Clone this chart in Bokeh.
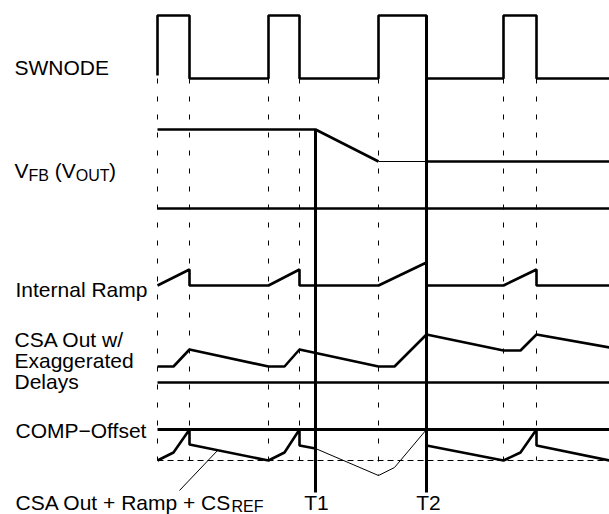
from bokeh.plotting import figure
from bokeh.models import Range1d
from bokeh.embed import file_html
from bokeh.resources import INLINE
from bokeh.core.properties import value

# ---- data (time axis in diagram units, levels in diagram units; y grows downward) ----
t_start, t_end = 157, 609
T1, T2 = 315, 426
edge_t = [157, 189, 268, 299, 378, 503, 536]          # switching edges (dashed markers)
edge_bottom = [460, 460, 460, 460, 475, 460, 460]

sw_t = [157, 157, 189, 189, 268, 268, 299, 299, 378, 378, 426, 426, 503, 503, 536, 536, 609]
sw_v = [75, 15, 15, 78, 78, 15, 15, 78, 78, 15, 15, 78, 78, 15, 15, 78, 78]

vfb_t = [157, 315, 378]
vfb_v = [129, 129, 161]
vfb_thin_t = [378, 426]
vfb_thin_v = [161, 161]
vfb2_t = [426, 609]
vfb2_v = [161, 161]
vfb_ref = 208

ramp_t = [157, 189, 189, 268, 299, 299, 378, 426, 426, 503, 536, 536, 609]
ramp_v = [285, 269, 285, 285, 269, 285, 285, 262, 285, 285, 269, 285, 285]

csa_t = [157, 173, 189, 268, 284, 299, 378, 394, 426, 503, 520, 536, 609]
csa_v = [366, 366, 349, 366, 366, 349, 366, 366, 334, 350, 350, 334, 347]
csa_ref = 382

comp_level = 429
sum_ref = 460
sum1_t = [157, 173, 189, 189, 268, 284, 299, 299, 315]
sum1_v = [460, 452, 429, 444, 460, 452, 429, 445, 448]
sum_thin_t = [315, 378, 394, 426]
sum_thin_v = [448, 475, 467, 429]
sum2_t = [426, 426, 503, 520, 536, 536, 609]
sum2_v = [429, 445, 460, 452, 429, 445, 460]

t_marker_top = [129, 15]
t_marker_bottom = 492
t_labels = ["T1", "T2"]

FONT = value("Liberation Sans")

p = figure(width=609, height=514, output_backend="svg", toolbar_location=None,
           x_range=Range1d(0, 609), y_range=Range1d(514, 0), min_border=0)
p.axis.visible = False
p.grid.visible = False
p.outline_line_color = None
p.background_fill_color = "white"

K = "black"
THICK = 2.6

# dashed edge markers
p.segment(x0=edge_t, y0=[78] * len(edge_t), x1=edge_t, y1=edge_bottom,
          line_color=K, line_width=1, line_dash="5 13")
# dashed sum reference
p.line([t_start, t_end], [sum_ref, sum_ref], line_color=K, line_width=1, line_dash="6 4")

# SWNODE
p.line(sw_t, sw_v, line_color=K, line_width=THICK)
# VFB
p.line(vfb_t, vfb_v, line_color=K, line_width=THICK)
p.line(vfb_thin_t, vfb_thin_v, line_color=K, line_width=1.2)
p.line(vfb2_t, vfb2_v, line_color=K, line_width=THICK)
p.line([t_start, t_end], [vfb_ref, vfb_ref], line_color=K, line_width=THICK)
# Internal ramp
p.line(ramp_t, ramp_v, line_color=K, line_width=THICK)
# CSA out
p.line(csa_t, csa_v, line_color=K, line_width=THICK)
p.line([t_start, t_end], [csa_ref, csa_ref], line_color=K, line_width=THICK)
# COMP - offset
p.line([t_start, t_end], [comp_level, comp_level], line_color=K, line_width=3)
# CSA + ramp + CSref
p.line(sum1_t, sum1_v, line_color=K, line_width=THICK)
p.line(sum_thin_t, sum_thin_v, line_color=K, line_width=1)
p.line(sum2_t, sum2_v, line_color=K, line_width=THICK)
# leader
p.line([217, 179], [450, 490], line_color=K, line_width=1)

# T1 / T2 markers
p.segment(x0=[T1, T2], y0=t_marker_top, x1=[T1, T2], y1=[t_marker_bottom] * 2,
          line_color=K, line_width=3)
p.text(x=[T1 + 1, T2 + 2], y=[502, 502], text=t_labels, text_font=FONT,
       text_font_size="21px", text_align="center", text_baseline="middle", text_color=K)

# main labels (y = vertical centre of capitals)
main_x = [14, 15, 14, 14, 14, 15]
main_y = [66.5, 289, 338.5, 359.5, 380.5, 430]
main_txt = ["SWNODE", "Internal Ramp", "CSA Out w/", "Exaggerated", "Delays", "COMP\u2212Offset"]
p.text(x=main_x, y=main_y, text=main_txt, text_font=FONT, text_font_size="21px",
       text_baseline="middle", text_color=K)

# labels with subscripts
big_x = [14, 54.2, 61.2, 108.5, 15]
big_y = [169.5, 169.5, 169.5, 169.5, 501.5]
big_txt = ["V", "(", "V", ")", "CSA Out + Ramp + CS"]
p.text(x=big_x, y=big_y, text=big_txt, text_font=FONT, text_font_size="21px",
       text_baseline="middle", text_color=K)
sub_x = [28, 75.2, 231]
sub_y = [174.5, 174.5, 505.5]
sub_txt = ["FB", "OUT", "REF"]
p.text(x=sub_x, y=sub_y, text=sub_txt, text_font=FONT, text_font_size="16px",
       text_baseline="middle", text_color=K)

open("out.html", "w").write(file_html(p, INLINE))
